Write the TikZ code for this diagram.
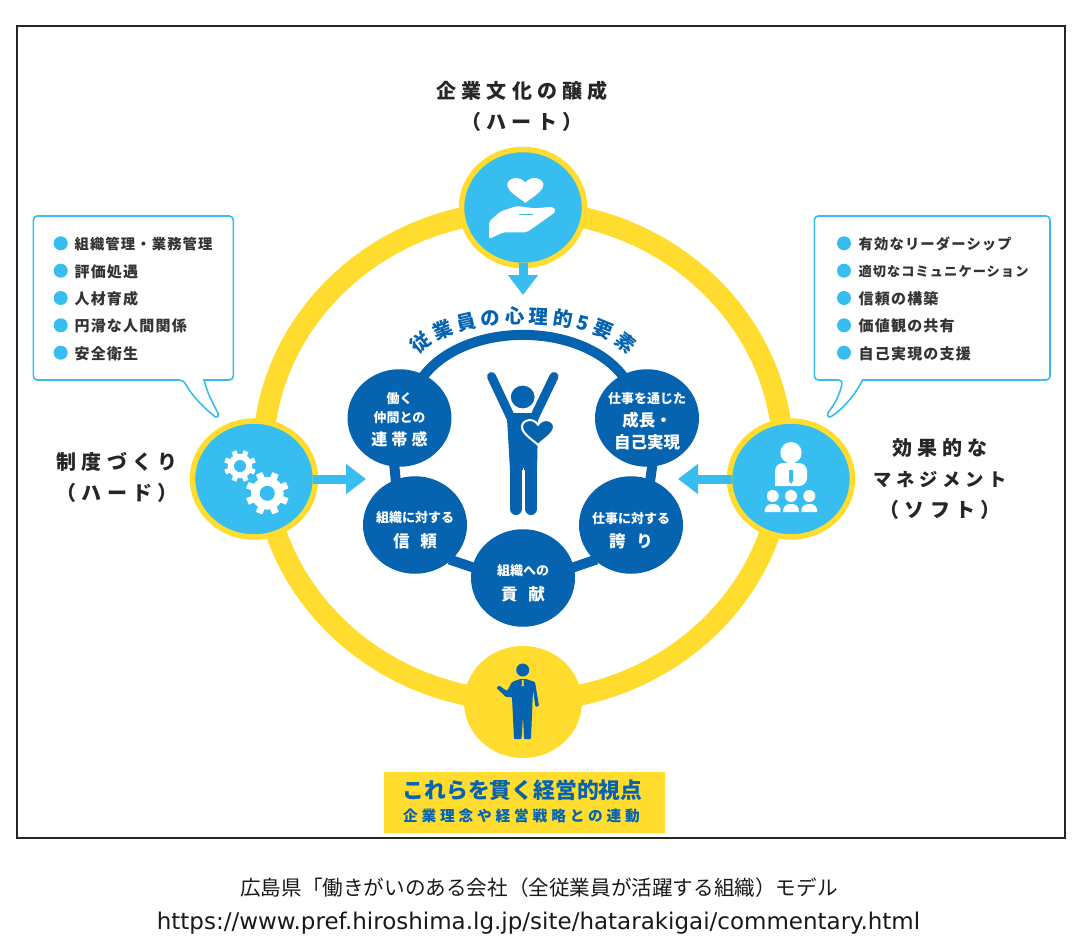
\documentclass[tikz,border=0pt]{standalone}
\usepackage{fontspec}
\setmainfont{Noto Sans CJK JP}
\newfontfamily\titlefont[LetterSpace=26]{Noto Sans CJK JP}
\newfontfamily\itemfont[LetterSpace=8]{Noto Sans CJK JP}
\newfontfamily\urlfont{DejaVu Sans}
\usetikzlibrary{arrows.meta,shapes.geometric,decorations.text}
\definecolor{ringyellow}{HTML}{FFDC2E}
\definecolor{skyblue}{HTML}{38BDF0}
\definecolor{deepblue}{HTML}{0563AF}
\newcommand{\heartpath}{(0,1) .. controls (-.3,.65) and (-1,.2) .. (-1,-.3) .. controls (-1,-.8) and (-.3,-1) .. (0,-.45) .. controls (.3,-1) and (1,-.8) .. (1,-.3) .. controls (1,.2) and (.3,.65) .. (0,1) -- cycle}
\newcommand{\sm}{\fontsize{13}{18}\selectfont}
\newcommand{\bg}{\titlefont\fontsize{16}{23}\selectfont}
\newcommand{\md}{\fontsize{16.5}{23}\selectfont}
\newcommand{\tighter}[1]{\fontsize{#1}{14}\selectfont}
\tikzset{
  basic/.style  = {ellipse, inner sep=-14pt, align=center, text=white},
  pillar/.style = {basic, draw=ringyellow, line width=5.5pt, fill=skyblue,
                   minimum width=123pt, minimum height=116pt},
  element/.style = {basic, fill=deepblue, font=\bfseries,
                   minimum width=104pt, minimum height=97.5pt},
  title/.style  = {align=center, text=black!85, font=\titlefont\bfseries\fontsize{20}{31}\selectfont},
  link/.style   = {draw=deepblue, line width=10pt, shorten <=-2pt, shorten >=-2pt},
  flow/.style   = {draw=skyblue, line width=9pt, shorten <=-5pt,
                   -{Triangle[length=20pt,width=29pt]}},
  balloon/.style = {draw=skyblue, line width=1.6pt, fill=white},
  dot/.style    = {circle, fill=skyblue, minimum size=14pt, inner sep=0pt},
  item/.style   = {anchor=west, inner sep=0pt, text=black!80, font=\itemfont\bfseries\fontsize{15}{14}\selectfont}
}
\begin{document}
\begin{tikzpicture}[x=1pt,y=-1pt]
\useasboundingbox (0,0) rectangle (1076,952);
\draw[line width=1.5pt, black!85] (17,26) rectangle (1065,838);

% the yellow ring
\draw[ringyellow, line width=21pt] (523,456) ellipse [x radius=260pt, y radius=245pt];

% the four pillars
\node[pillar] (ctop) at (523,207.5) {};
\node[pillar] (cleft) at (254,479) {};
\node[pillar] (cright) at (791,479) {};
\node[ellipse, fill=ringyellow, minimum width=118pt, minimum height=112pt, inner sep=0pt] (cbottom) at (523,702) {};

\node[title] (ttop) at (522,106) {企業文化の醸成\\（ハート）};
\node[title] (tleft) at (117,477) {制度づくり\\（ハード）};
\node[title] (tright) at (940,479) {効果的な\\{\fontsize{18.3}{31}\selectfont マネジメント}\\（ソフト）};

% arrows into the middle
\coordinate (atop) at (523,295);
\coordinate (aleft) at (366,479);
\coordinate (aright) at (678,479);
\draw[flow] (ctop) -- (atop);
\draw[flow] (cleft) -- (aleft);
\draw[flow] (cright) -- (aright);

% the five elements
\node[element] (e1) at (399.5,418) {\sm\rule{0pt}{14pt}働く\\[6pt]\sm 仲間との\\[7pt]\bg 連帯感};
\node[element] (e2) at (647,418) {\sm\rule{0pt}{18pt}仕事を通じた\\[6pt]\md 成長・\\[6pt]\md 自己実現};
\node[element] (e3) at (415,525) {\sm\rule{0pt}{22pt}組織に対する\\[8pt]\md 信\hspace{11pt}頼};
\node[element] (e4) at (631,525) {\sm\rule{0pt}{22pt}仕事に対する\\[8pt]\md 誇\hspace{11pt}り};
\node[element] (e5) at (523,578) {\sm\rule{0pt}{22pt}組織への\\[8pt]\md 貢\hspace{11pt}献};

\draw[link] (e1.60) .. controls (465,321) and (581,321) .. (e2.120);
\draw[link] (e1.264) -- (e3.113);
\draw[link] (e2.276) -- (e4.67);
\draw[link] (e3.-44) -- (e5.168);
\draw[link] (e4.224) -- (e5.12);

\path[decorate, decoration={text along path, text align={fit to path},
    text={|\bfseries\fontsize{19.5}{19.5}\selectfont\color{deepblue}|従業員の心理的5要素}}]
  (418,355) .. controls (452,313) and (594,313) .. (628,355);

% person in the middle
\draw[deepblue, line width=9pt, line cap=round] (491.5,376.5) -- (511,418) (554,376.5) -- (534,418);
\fill[deepblue] (506.7,413) -- (538.3,413) -- (537,470) -- (510,470) -- cycle;
\draw[deepblue, line width=12pt, line cap=round] (516,468) -- (516,509) (531,468) -- (531,509);
\draw[white, line width=1.5pt] (523.5,468) -- (523.5,516);
\draw[white, line width=2pt, fill=deepblue] (522.7,397) ellipse [x radius=13pt, y radius=12.5pt];
\begin{scope}[shift={(538,431)},x=16pt,y=-14pt]
  \draw[white, line width=2pt, fill=deepblue] \heartpath;
\end{scope}

% hand with heart
\begin{scope}[shift={(525.3,189)},x=18pt,y=-14pt]
  \fill[white] \heartpath;
\end{scope}
\fill[white, rounded corners=2pt] (489,239) -- (489,221.7) -- (500,211.7) -- (516.7,206) -- (535,208.3)
  -- (553.3,206.7) -- (556,211.7) -- (526.7,232.3) -- (503.3,232.3) -- cycle;
\draw[skyblue, line width=1.2pt] (519.3,214.3) -- (533.3,214.3);

% gears
\foreach \cx/\cy/\rad/\hole in {240/466/16/6,267.3/493.3/21.5/7.5} {
  \begin{scope}[shift={(\cx,\cy)}]
    \foreach \a in {0,45,...,315}
      \fill[white, rotate=\a+22.5] (-.16*\rad,-.7*\rad) rectangle (.16*\rad,-\rad);
    \fill[white] (0,0) circle (.76*\rad);
    \fill[skyblue] (0,0) circle (\hole);
  \end{scope}
}

% manager with three people
\fill[white] (791,452.7) circle (10.7);
\fill[white, rounded corners=8pt] (775,486) -- (775,463) -- (807,463) -- (807,486) [sharp corners] -- cycle;
\fill[skyblue] (789,470) -- (793,470) -- (793,481) -- (791,484) -- (789,481) -- cycle;
\foreach \px in {772.7,791,809.3} {
  \fill[white] (\px,496) circle (6);
  \fill[white] (\px-8,512) .. controls (\px-8,506) and (\px-5,504) .. (\px,504)
     .. controls (\px+5,504) and (\px+8,506) .. (\px+8,512) -- cycle;
}

% man at the bottom
\fill[deepblue] (522.7,670) circle (6.5);
\fill[deepblue, rounded corners=1pt] (512,682) -- (520,679) -- (526,679) -- (535,682) -- (539,706) -- (535.5,707)
  -- (533,690) -- (531,739) -- (524,739) -- (523,716) -- (521.5,739) -- (514,739) -- (512,697)
  -- (506,697) -- (496.5,688) -- (499,685.5) -- (507,691) -- cycle;
\fill[ringyellow] (522,680) -- (523.5,680) -- (523.8,686) -- (521.7,686) -- cycle;

% box at the bottom
\fill[ringyellow] (383.7,771.7) rectangle (665,832.7);
\node[text=deepblue, inner sep=0pt, font=\bfseries\fontsize{21.8}{21.8}\selectfont] (b1) at (522.5,790.5) {これらを貫く経営的視点};
\node[text=deepblue, inner sep=0pt, font=\titlefont\bfseries\fontsize{14.7}{14.7}\selectfont] (b2) at (521.5,815.7) {企業理念や経営戦略との連動};

% left balloon
\draw[balloon, rounded corners=4pt] (204,380) -- (233.3,380) -- (233.3,216) -- (33.3,216) -- (33.3,380) -- (183.3,380)
  [sharp corners] .. controls (192,396) and (204,408) .. (215,416.7) .. controls (218,418) and (219,415) .. (218,413) .. controls (212,402) and (207,392) .. (204,380) -- cycle;
\node[dot] (l1) at (60.7,243.3) {};
\node[dot] (l2) at (60.7,270.7) {};
\node[dot] (l3) at (60.7,298) {};
\node[dot] (l4) at (60.7,325.3) {};
\node[dot] (l5) at (60.7,352.7) {};
\foreach \value/\words in {1/{\tighter{14.3}組織管理・業務管理},2/評価処遇,3/人材育成,4/円滑な人間関係,5/安全衛生}
  \node[item] (lt\value) at ([xshift=6.5pt,yshift=-.7pt]l\value.east) {\words};

% right balloon
\draw[balloon, rounded corners=4pt] (862.7,380) -- (1050,380) -- (1050,216) -- (814.3,216) -- (814.3,380) -- (842.7,380)
  [sharp corners] .. controls (840,394) and (835,404) .. (828.5,412) .. controls (826.5,415) and (828,418) .. (831,416.7) .. controls (843,409) and (855,395) .. (862.7,380) -- cycle;
\node[dot] (r1) at (844,243.3) {};
\node[dot] (r2) at (844,270.7) {};
\node[dot] (r3) at (844,298) {};
\node[dot] (r4) at (844,325.3) {};
\node[dot] (r5) at (844,352.7) {};
\foreach \value/\words in {1/{\tighter{14.3}有効なリーダーシップ},2/{\tighter{13.2}適切なコミュニケーション},3/信頼の構築,4/価値観の共有,5/自己実現の支援}
  \node[item] (rt\value) at ([xshift=7.3pt,yshift=-.7pt]r\value.east) {\words};

% source under the frame
\node[inner sep=0pt, text=black!90, font=\fontsize{20.6}{20.6}\selectfont] (src) at (539,888) {広島県「働きがいのある会社（全従業員が活躍する組織）モデル};
\node[inner sep=0pt, text=black!90, font=\urlfont\fontsize{23}{23}\selectfont] (url) at (538.5,923) {https://www.pref.hiroshima.lg.jp/site/hatarakigai/commentary.html};
\end{tikzpicture}
\end{document}
